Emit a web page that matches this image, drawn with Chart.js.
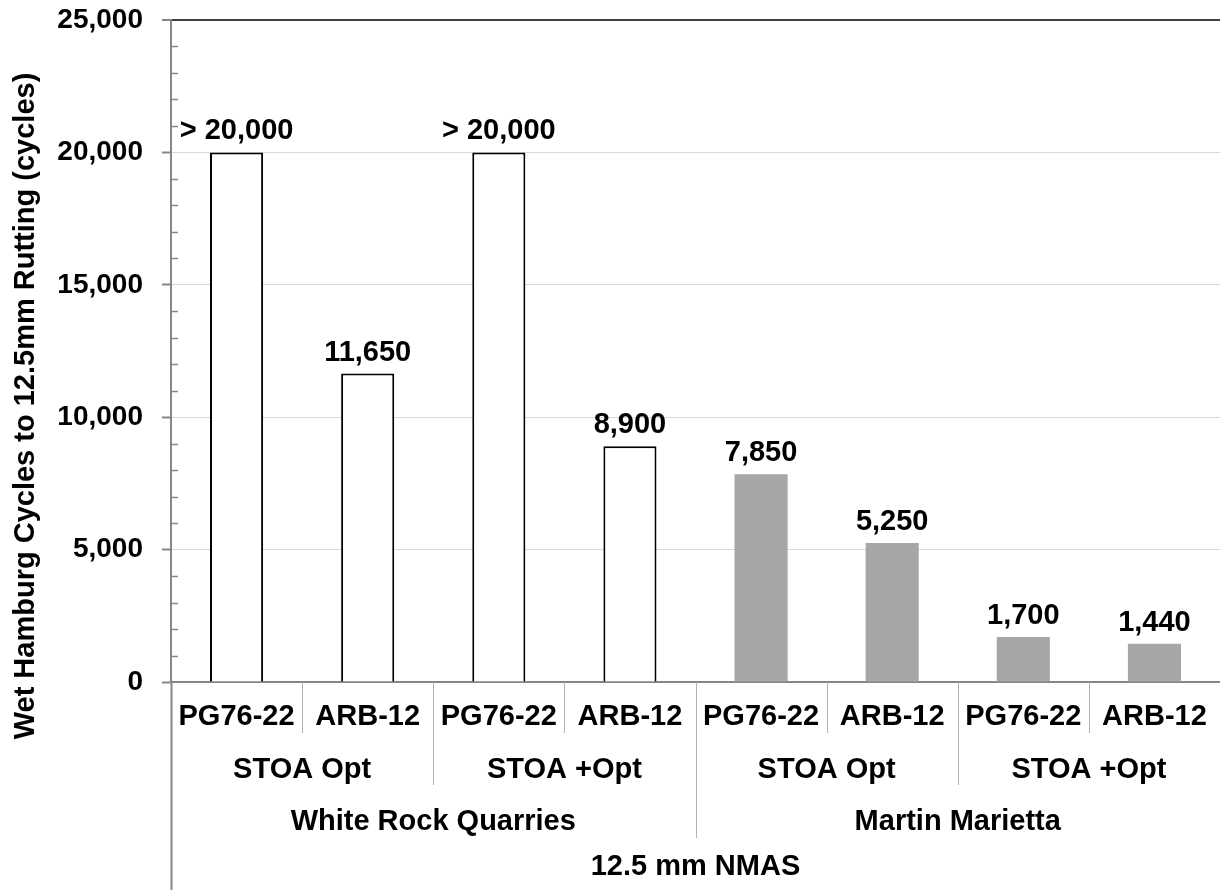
<!DOCTYPE html>
<html><head><meta charset="utf-8">
<script src="https://cdn.jsdelivr.net/npm/chart.js@4.4.0/dist/chart.umd.min.js"></script>
<style>html,body{margin:0;padding:0;background:#fff}#wrap{width:1220px;height:890px}</style>
</head><body><div id="wrap"><canvas id="c" width="1220" height="890"></canvas></div>
<script>
const binders = ['PG76-22','ARB-12','PG76-22','ARB-12','PG76-22','ARB-12','PG76-22','ARB-12'];
const mixGroups = ['STOA Opt','STOA +Opt','STOA Opt','STOA +Opt'];
const sources = ['White Rock Quarries','Martin Marietta'];
const sizeGroup = ['12.5 mm NMAS'];
const cycles = [20000, 11650, 20000, 8900, 7850, 5250, 1700, 1440];
const valueLabels = ['> 20,000','11,650','> 20,000','8,900','7,850','5,250','1,700','1,440'];
const yTicks = [0, 5000, 10000, 15000, 20000, 25000];
const yAxisTitle = 'Wet Hamburg Cycles to 12.5mm Rutting (cycles)';

const FONT = '"Liberation Sans", Arial, sans-serif';
const FS = 29;
const TICK_FS = 28;
const barFill = cycles.map((v, i) => i < 4 ? '#ffffff' : '#a6a6a6');
const barEdge = cycles.map((v, i) => i < 4 ? '#000000' : '#a6a6a6');
const barEdgeW = cycles.map((v, i) => i < 4 ? 2 : 0);

const minorTicks = {
  id: 'minorTicks',
  afterDraw(chart) {
    const y = chart.scales.y, ctx = chart.ctx, x0 = chart.chartArea.left;
    ctx.save();
    ctx.strokeStyle = '#868686';
    ctx.lineWidth = 1.5;
    for (let v = 1000; v < 25000; v += 1000) {
      if (v % 5000 === 0) continue;
      const py = Math.round(y.getPixelForValue(v)) + 0.5;
      ctx.beginPath(); ctx.moveTo(x0, py); ctx.lineTo(x0 + 7, py); ctx.stroke();
    }
    ctx.restore();
  }
};

const yTitle = {
  id: 'yTitle',
  afterDraw(chart) {
    const ctx = chart.ctx;
    ctx.save();
    ctx.translate(34, 406);
    ctx.rotate(-Math.PI / 2);
    ctx.fillStyle = '#000';
    ctx.font = 'bold ' + FS + 'px ' + FONT;
    ctx.textAlign = 'center';
    ctx.textBaseline = 'alphabetic';
    ctx.fillText(yAxisTitle, 0, 0);
    ctx.restore();
  }
};

const groupAxis = {
  id: 'groupAxis',
  afterDraw(chart) {
    const xs = chart.scales.x, ctx = chart.ctx, area = chart.chartArea;
    const n = binders.length;
    const half = (xs.getPixelForValue(1) - xs.getPixelForValue(0)) / 2;
    const edge = i => xs.getPixelForValue(0) - half + i * 2 * half;
    const base = area.bottom;
    const sepEnd = [51, 103, 156, 210];
    const textY = [35, 88, 140, 185];
    ctx.save();
    for (let i = 0; i <= n; i++) {
      let lvl = 0;
      if (i % 2 === 0) lvl = 1;
      if (i % 4 === 0) lvl = 2;
      if (i % 8 === 0) lvl = 3;
      const px = Math.round(edge(i)) + 0.5;
      if (i === 0) { ctx.strokeStyle = '#868686'; ctx.lineWidth = 2; }
      else { ctx.strokeStyle = '#b0b0b0'; ctx.lineWidth = 1; }
      ctx.beginPath(); ctx.moveTo(px, base); ctx.lineTo(px, base + sepEnd[lvl]); ctx.stroke();
    }
    ctx.fillStyle = '#000';
    ctx.font = 'bold ' + FS + 'px ' + FONT;
    ctx.textAlign = 'center';
    ctx.textBaseline = 'middle';
    const levels = [binders, mixGroups, sources, sizeGroup];
    levels.forEach((arr, l) => {
      const span = n / arr.length;
      arr.forEach((t, k) => {
        const cx = (edge(k * span) + edge((k + 1) * span)) / 2;
        ctx.fillText(t, cx, base + textY[l]);
      });
    });
    ctx.restore();
  }
};

const barLabels = {
  id: 'barLabels',
  afterDatasetsDraw(chart) {
    const ctx = chart.ctx, meta = chart.getDatasetMeta(0);
    ctx.save();
    ctx.fillStyle = '#000';
    ctx.font = 'bold ' + FS + 'px ' + FONT;
    ctx.textAlign = 'center';
    ctx.textBaseline = 'alphabetic';
    meta.data.forEach((el, i) => {
      ctx.fillText(valueLabels[i], el.x, el.y - 13);
    });
    ctx.restore();
  }
};

new Chart(document.getElementById('c'), {
  type: 'bar',
  data: {
    labels: binders,
    datasets: [{
      data: cycles,
      backgroundColor: barFill,
      borderColor: barEdge,
      borderWidth: barEdgeW,
      barPercentage: 0.405,
      categoryPercentage: 1
    }]
  },
  options: {
    responsive: false,
    devicePixelRatio: 1,
    animation: false,
    layout: { padding: { top: 20, right: 0, bottom: 0, left: 0 } },
    plugins: { legend: { display: false }, tooltip: { enabled: false } },
    scales: {
      x: {
        type: 'category',
        grid: { display: false },
        border: { color: '#868686', width: 2 },
        ticks: { display: false },
        afterFit(s) { s.height = 208; s.paddingLeft = 0; s.paddingRight = 0; }
      },
      y: {
        min: 0, max: 25000,
        afterBuildTicks(s) { s.ticks = yTicks.map(v => ({ value: v })); },
        ticks: {
          color: '#000',
          padding: 19,
          font: { family: FONT, size: TICK_FS, weight: 'bold' },
          callback: v => Number(v).toLocaleString('en-US')
        },
        grid: {
          color: c => c.tick.value === 25000 ? '#404040' : (c.tick.value === 0 ? '#868686' : '#d9d9d9'),
          lineWidth: c => c.tick.value === 25000 ? 2 : 1,
          tickColor: '#868686',
          tickLength: 9,
          tickWidth: 2
        },
        border: { color: '#868686', width: 2 },
        title: { display: false },
        afterFit(s) { s.width = 171; s.paddingTop = 0; s.paddingBottom = 0; }
      }
    }
  },
  plugins: [minorTicks, groupAxis, barLabels, yTitle]
});
</script>
</body></html>
